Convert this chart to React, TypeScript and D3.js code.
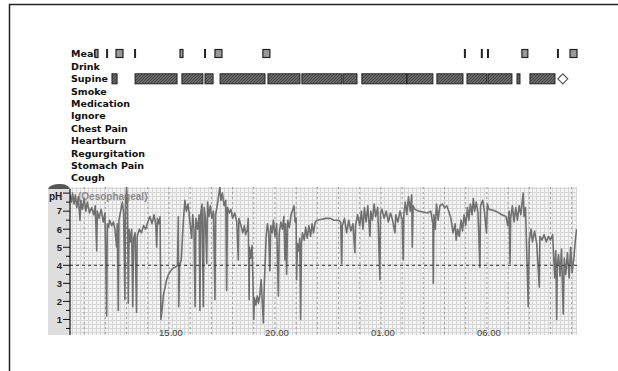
import React from "react";
import * as d3 from "d3";

// event rows on the left
const rowLabels = ["Meal", "Drink", "Supine", "Smoke", "Medication", "Ignore", "Chest Pain", "Heartburn", "Regurgitation", "Stomach Pain", "Cough"];

// hours since midnight of day 1 (values > 24 are next day)
const mealEvents: [number, number][] = [
  [11.51, 11.65], [12.08, 12.08], [12.5, 12.83], [13.4, 13.4], [15.52, 15.66], [16.7, 16.7],
  [17.17, 17.5], [19.43, 19.76], [28.96, 28.96], [29.76, 29.76], [30.05, 30.05],
  [31.65, 31.93], [33.35, 33.35], [33.92, 34.25],
];
const supineEvents: [number, number][] = [
  [12.31, 12.55], [13.4, 15.38], [15.61, 16.6], [16.7, 17.08], [17.41, 19.53], [19.67, 21.18],
  [21.27, 23.16], [23.21, 23.87], [24.1, 26.23], [26.23, 27.45], [27.64, 28.87], [29.06, 30.0],
  [30.05, 31.18], [31.42, 31.56], [32.03, 33.21],
];
const supineEnd = 33.58;

const phTicks = [1, 2, 3, 4, 5, 6, 7];
const timeTicks = [15, 20, 25, 30];
const timeLabels = ["15.00", "20.00", "01.00", "06.00"];
const refPh = 4;

// pH trace: [hour, pH]
const phTrace: [number, number][] = [
  [10.33, 7.9], [10.4, 7.5], [10.45, 8.0], [10.52, 7.4], [10.58, 7.9], [10.65, 7.2], [10.72, 7.8],
  [10.8, 6.5], [10.85, 7.6], [10.92, 7.1], [11.0, 7.7], [11.08, 7.0], [11.15, 7.5], [11.25, 6.9],
  [11.35, 7.2], [11.45, 6.8], [11.52, 7.3], [11.59, 4.8], [11.62, 7.0], [11.7, 6.6], [11.8, 7.1],
  [11.9, 6.4], [11.98, 6.9], [12.06, 1.2], [12.09, 6.3], [12.15, 6.1], [12.2, 6.5], [12.3, 6.2],
  [12.38, 6.4], [12.45, 6.0], [12.53, 5.0], [12.56, 6.3], [12.61, 1.5], [12.64, 6.5], [12.72, 7.0],
  [12.8, 7.5], [12.86, 6.9], [12.92, 2.1], [12.95, 7.3], [13.0, 8.35], [13.04, 7.4], [13.08, 1.9],
  [13.12, 6.0], [13.18, 5.3], [13.24, 6.0], [13.29, 1.7], [13.33, 5.5], [13.4, 5.8], [13.47, 1.4],
  [13.5, 5.6], [13.6, 6.0], [13.7, 5.8], [13.8, 6.2], [13.9, 6.0], [14.0, 6.4], [14.1, 6.7],
  [14.2, 6.3], [14.3, 6.8], [14.38, 6.2], [14.42, 5.0], [14.46, 6.6], [14.52, 6.3], [14.58, 6.7],
  [14.62, 1.0], [14.68, 1.6], [14.73, 2.3], [14.8, 2.7], [14.89, 3.2], [14.98, 3.5], [15.08, 3.7],
  [15.2, 3.85], [15.3, 3.9], [15.4, 4.0], [15.44, 6.7], [15.46, 1.7], [15.5, 4.0], [15.58, 4.3],
  [15.62, 5.2], [15.68, 6.5], [15.75, 7.6], [15.82, 7.0], [15.9, 7.4], [15.98, 6.5], [16.07, 5.5],
  [16.12, 6.8], [16.18, 6.0], [16.23, 1.7], [16.27, 6.6], [16.35, 6.0], [16.42, 6.8], [16.46, 1.5],
  [16.5, 6.9], [16.56, 7.4], [16.62, 1.7], [16.66, 7.2], [16.72, 6.6], [16.78, 4.1], [16.82, 7.5],
  [16.88, 6.7], [16.95, 7.3], [17.02, 6.6], [17.1, 7.0], [17.17, 2.1], [17.2, 6.8], [17.3, 7.5],
  [17.4, 8.35], [17.45, 7.6], [17.52, 8.0], [17.6, 7.3], [17.68, 7.6], [17.72, 2.6], [17.76, 7.2],
  [17.85, 6.9], [17.92, 7.1], [18.0, 6.6], [18.1, 6.9], [18.2, 6.4], [18.27, 4.3], [18.3, 6.6],
  [18.4, 6.2], [18.48, 5.8], [18.56, 6.2], [18.62, 5.7], [18.7, 6.0], [18.74, 6.6], [18.78, 2.1],
  [18.8, 5.0], [18.86, 4.4], [18.92, 5.1], [18.95, 3.8], [19.0, 1.0], [19.03, 2.2], [19.1, 1.8],
  [19.16, 2.3], [19.22, 1.9], [19.28, 2.3], [19.35, 3.2], [19.4, 2.0], [19.45, 0.8], [19.5, 3.0],
  [19.58, 5.5], [19.64, 6.3], [19.7, 5.9], [19.76, 3.7], [19.8, 6.2], [19.87, 5.8], [19.93, 6.5],
  [20.0, 5.6], [20.08, 6.3], [20.16, 2.3], [20.2, 5.8], [20.28, 6.4], [20.35, 6.0], [20.42, 6.7],
  [20.47, 4.3], [20.5, 6.3], [20.55, 3.5], [20.6, 6.5], [20.68, 6.1], [20.76, 6.8], [20.9, 7.3],
  [20.95, 6.4], [21.0, 6.6], [21.02, 3.2], [21.06, 5.2], [21.12, 4.8], [21.17, 5.5], [21.21, 1.0],
  [21.25, 5.2], [21.3, 5.8], [21.38, 5.4], [21.45, 6.1], [21.52, 5.5], [21.6, 6.2], [21.68, 5.6],
  [21.75, 6.3], [21.82, 5.8], [21.9, 6.4], [22.0, 6.5], [22.2, 6.55], [22.4, 6.6], [22.6, 6.6],
  [22.8, 6.5], [23.0, 6.5], [23.1, 6.4], [23.15, 4.1], [23.18, 6.2], [23.28, 6.6], [23.38, 5.8],
  [23.48, 6.5], [23.58, 5.9], [23.68, 6.3], [23.77, 4.7], [23.8, 6.2], [23.9, 6.8], [24.0, 6.2],
  [24.08, 7.0], [24.15, 6.0], [24.22, 7.2], [24.3, 6.4], [24.38, 7.3], [24.48, 5.6], [24.52, 7.0],
  [24.6, 6.5], [24.68, 7.4], [24.75, 6.7], [24.85, 7.2], [24.95, 3.2], [24.98, 6.9], [25.05, 7.1],
  [25.15, 6.6], [25.25, 7.0], [25.35, 6.4], [25.45, 6.9], [25.55, 6.5], [25.66, 5.8], [25.7, 6.8],
  [25.8, 6.4], [25.9, 7.0], [26.0, 6.5], [26.05, 4.3], [26.08, 6.8], [26.15, 7.5], [26.22, 6.8],
  [26.3, 7.8], [26.38, 7.0], [26.45, 7.9], [26.48, 5.0], [26.52, 7.3], [26.6, 7.1], [26.8, 7.0],
  [27.0, 6.95], [27.2, 6.9], [27.35, 7.0], [27.45, 6.3], [27.47, 3.0], [27.5, 6.8], [27.56, 6.0],
  [27.62, 7.4], [27.7, 6.5], [27.78, 7.3], [27.9, 7.4], [28.0, 7.2], [28.1, 7.3], [28.2, 7.0],
  [28.3, 6.6], [28.4, 5.8], [28.5, 6.3], [28.55, 5.4], [28.62, 6.0], [28.7, 5.6], [28.78, 6.5],
  [28.85, 5.9], [28.92, 6.8], [29.0, 6.2], [29.08, 7.2], [29.15, 6.5], [29.22, 7.4], [29.3, 6.8],
  [29.36, 7.7], [29.42, 7.0], [29.5, 7.5], [29.58, 6.9], [29.67, 3.9], [29.7, 7.3], [29.8, 7.6],
  [29.88, 7.0], [29.98, 5.8], [30.02, 7.4], [30.1, 7.1], [30.3, 7.05], [30.5, 6.95], [30.7, 6.8],
  [30.9, 6.7], [30.98, 6.2], [31.05, 7.0], [31.09, 4.1], [31.12, 6.6], [31.2, 7.3], [31.28, 6.4],
  [31.36, 7.2], [31.44, 6.5], [31.52, 7.3], [31.6, 6.8], [31.71, 8.0], [31.75, 6.7], [31.82, 7.2],
  [31.95, 1.7], [32.0, 5.4], [32.08, 6.0], [32.15, 5.3], [32.25, 5.9], [32.35, 5.2], [32.47, 2.8],
  [32.5, 5.6], [32.6, 5.4], [32.7, 5.7], [32.8, 5.3], [32.9, 5.6], [33.0, 5.4], [33.1, 5.7],
  [33.2, 3.3], [33.25, 4.8], [33.29, 1.0], [33.32, 4.0], [33.38, 4.6], [33.45, 3.4], [33.52, 4.9],
  [33.6, 1.3], [33.65, 4.4], [33.72, 3.5], [33.8, 4.7], [33.88, 3.3], [33.95, 5.0], [34.02, 3.6],
  [34.1, 4.4], [34.18, 5.5], [34.23, 6.0],
];

const W = 618;
const H = 371;
const plot = { left: 70, right: 577, top: 187, bottom: 335 };

const App = () => {
  const x = d3.scaleLinear().domain([10.33, 34.25]).range([plot.left, plot.right]);
  const y = d3.scaleLinear().domain([0, 8.4]).range([337.5, 185.9]);
  const row = d3.scalePoint<string>().domain(rowLabels).range([54, 178]);

  const line = d3.line<[number, number]>().x(d => x(d[0])).y(d => y(d[1]));
  const hours = d3.range(11, 35);
  const halfTicks = d3.range(0.5, 8.5, 0.5);

  const mealY = row("Meal")! - 5;
  const supY = row("Supine")! - 5;

  const font = "Liberation Sans, Arial, sans-serif";
  const labelFont = "DejaVu Sans, Verdana, sans-serif";

  return (
    <svg width={W} height={H} style={{ position: "absolute", left: 0, top: 0, background: "#fff" }}>
      <defs>
        <pattern id="fine" width={4} height={4} patternUnits="userSpaceOnUse">
          <rect width={4} height={4} fill="#f4f4f4" />
          <path d="M0 0.5H4M0.5 0V4" stroke="#d6d6d6" strokeWidth={1} />
        </pattern>
        <pattern id="hatch" width={3} height={3} patternUnits="userSpaceOnUse">
          <rect width={3} height={3} fill="#6a6a6a" />
          <path d="M0 3L3 0" stroke="#3a3a3a" strokeWidth={0.8} />
        </pattern>
        <clipPath id="plotClip">
          <rect x={plot.left} y={plot.top} width={plot.right - plot.left} height={plot.bottom - plot.top} />
        </clipPath>
      </defs>

      {/* frame: only top and left edges are inside the picture */}
      <path d={`M9.5,${H}V4.5H${W}`} fill="none" stroke="#222" strokeWidth={1.5} />

      {/* row labels */}
      {rowLabels.map(l => (
        <text key={l} x={71} y={row(l)} dy="0.35em" fontFamily={labelFont} fontWeight="bold" fontSize={9.5} fill="#111">
          {l}
        </text>
      ))}

      {/* meal events */}
      {mealEvents.map(([a, b], i) => {
        const w = x(b) - x(a);
        return w < 2 ? (
          <rect key={i} x={x(a) - 1} y={mealY} width={2} height={9} fill="#222" />
        ) : (
          <rect key={i} x={x(a)} y={mealY + 0.5} width={w} height={8} fill="#999" stroke="#222" strokeWidth={1.2} />
        );
      })}

      {/* supine events */}
      {supineEvents.map(([a, b], i) => (
        <rect key={i} x={x(a)} y={supY} width={Math.max(2, x(b) - x(a))} height={10}
          fill="url(#hatch)" stroke="#222" strokeWidth={1} />
      ))}
      <path
        d={`M${x(supineEnd) - 5},${supY + 5}L${x(supineEnd)},${supY}L${x(supineEnd) + 5},${supY + 5}L${x(supineEnd)},${supY + 10}Z`}
        fill="#fff" stroke="#555" strokeWidth={1.2}
      />

      {/* pH panel background */}
      <rect x={plot.left} y={plot.top} width={plot.right - plot.left} height={plot.bottom - plot.top} fill="url(#fine)" />
      <rect x={48} y={plot.top} width={plot.left - 48} height={plot.bottom - plot.top} fill="#dedede" />
      <path d={`M48,${plot.top + 2}Q50,${plot.top - 3} 60,${plot.top - 3}Q68,${plot.top - 3} 70,${plot.top + 2}Z`} fill="#555" />

      {/* hourly grid */}
      {hours.map(h => (
        <line key={h} x1={x(h)} x2={x(h)} y1={plot.top} y2={plot.bottom}
          stroke="#9a9a9a" strokeWidth={1} strokeDasharray="2,3" />
      ))}

      <text x={78} y={200} fontFamily={font} fontSize={10} fontWeight="bold" fill="#8a8a8a">(Oesophageal)</text>

      {/* trace */}
      <path d={line(phTrace)!} fill="none" stroke="#707070" strokeWidth={1.6} strokeLinejoin="round" clipPath="url(#plotClip)" />

      {/* reference line */}
      <line x1={plot.left} x2={plot.right} y1={y(refPh)} y2={y(refPh)} stroke="#333" strokeWidth={1} strokeDasharray="3,3" />

      {/* y axis */}
      <line x1={plot.left} x2={plot.left} y1={plot.top + 2} y2={plot.bottom} stroke="#111" strokeWidth={1.2} />
      {halfTicks.map(t => (
        <line key={t} x1={Number.isInteger(t) ? plot.left - 7 : plot.left - 4} x2={plot.left} y1={y(t)} y2={y(t)}
          stroke="#111" strokeWidth={1} />
      ))}
      {phTicks.map(t => (
        <text key={t} x={62} y={y(t)} dy="0.35em" textAnchor="end" fontFamily={font} fontWeight="bold" fontSize={9.5} fill="#222">
          {t}
        </text>
      ))}
      <text x={49} y={200} fontFamily={font} fontWeight="bold" fontSize={10} fill="#222">pH</text>

      {/* time labels */}
      {timeTicks.map((t, i) => (
        <text key={t} x={x(t) + 2} y={333} dy="0.35em" textAnchor="middle" fontFamily={font} fontSize={9.5} fill="#444">
          {timeLabels[i]}
        </text>
      ))}
    </svg>
  );
};

export default App;
